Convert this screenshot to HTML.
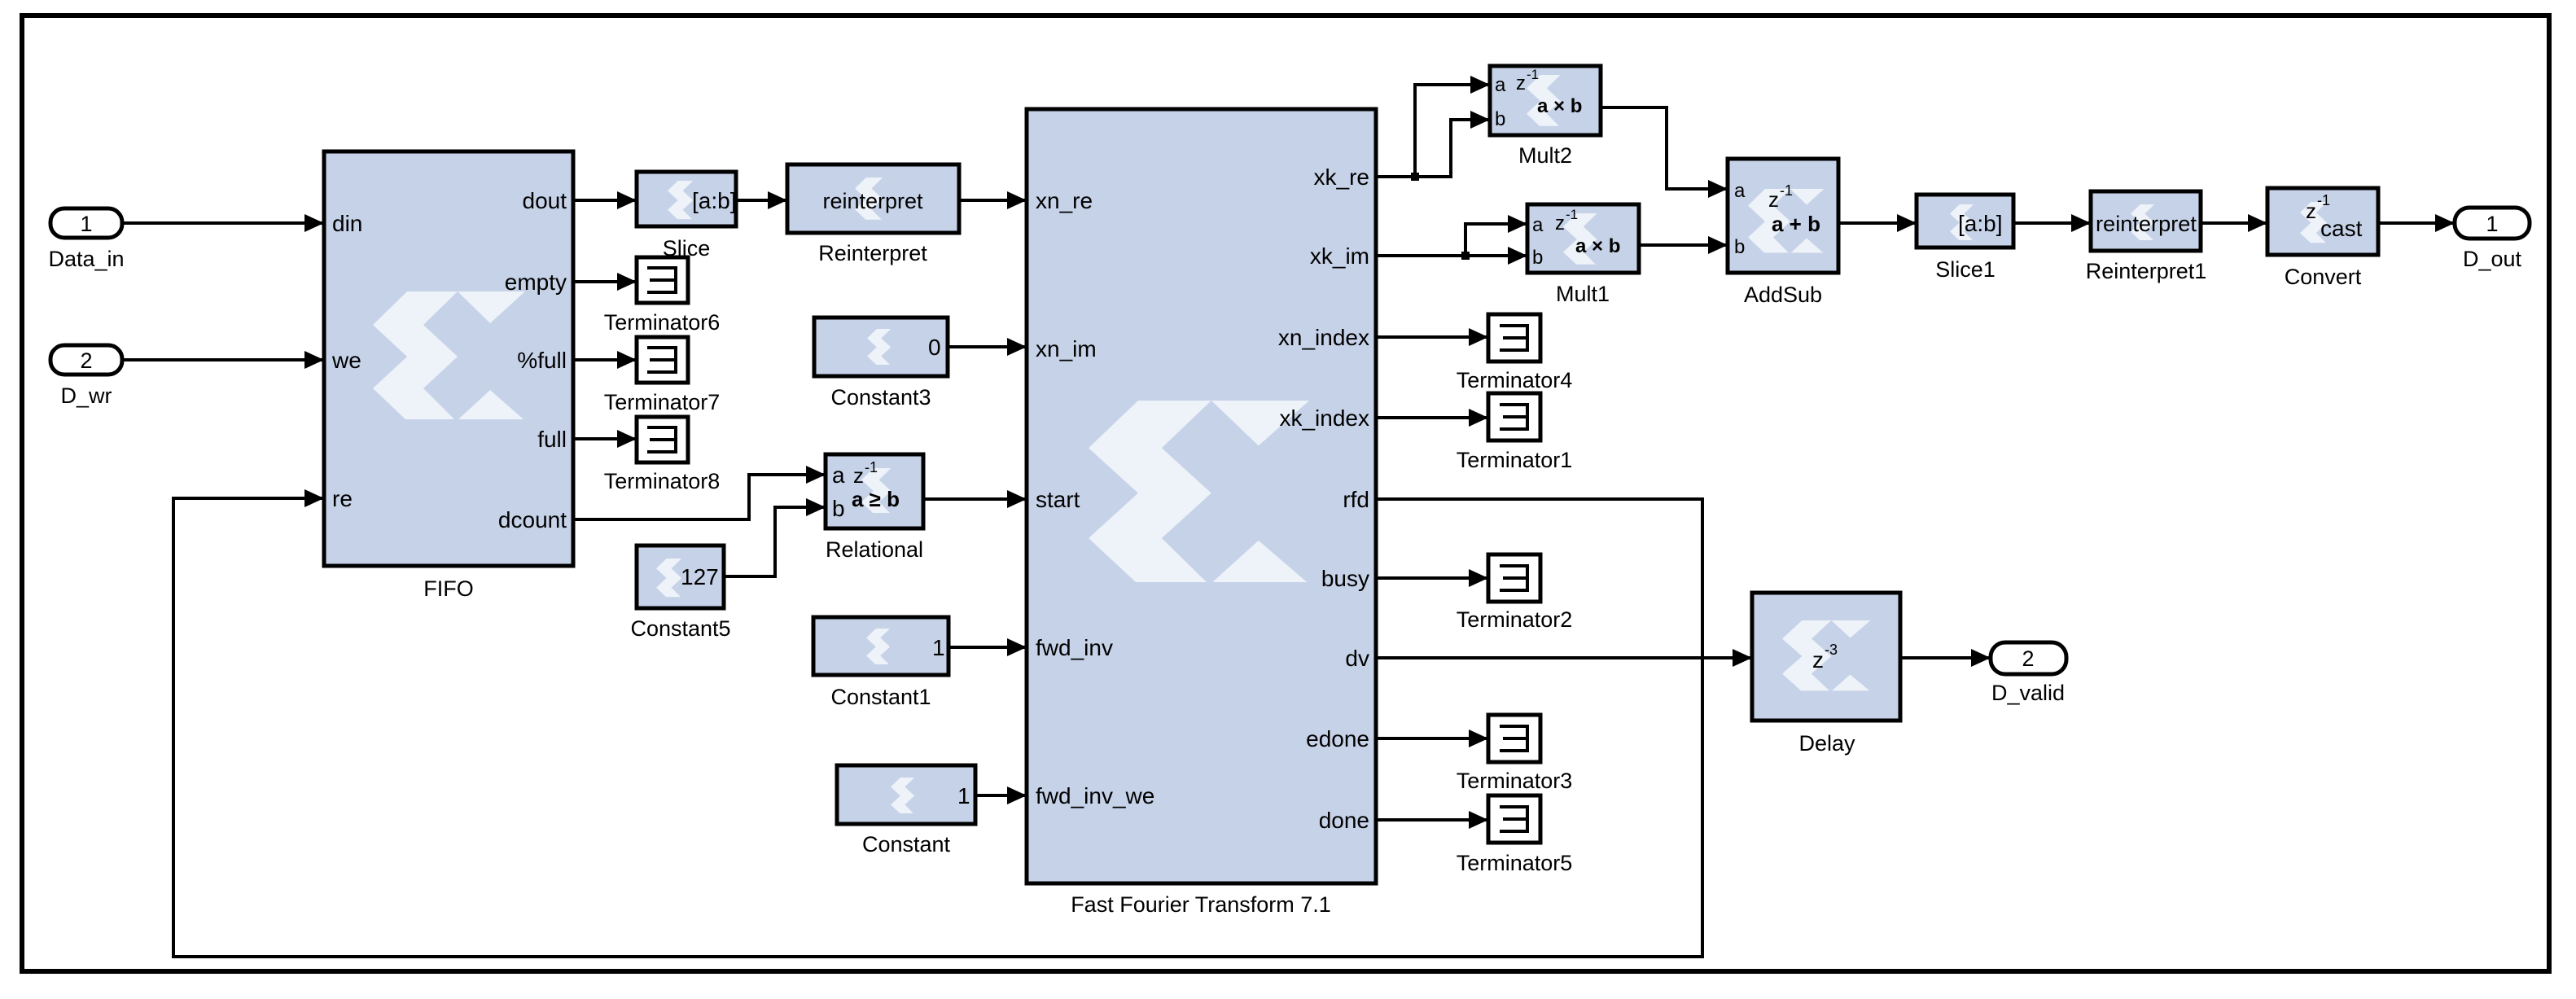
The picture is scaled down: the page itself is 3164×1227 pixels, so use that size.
<!DOCTYPE html>
<html><head><meta charset="utf-8"><style>
html,body{margin:0;padding:0;background:#fff}
svg{display:block}
text{font-family:"Liberation Sans",Arial,sans-serif;fill:#000}
.b{fill:#c6d2e8;stroke:#000;stroke-width:5}
.t{fill:#fff;stroke:#000;stroke-width:5}
.w{fill:none;stroke:#000;stroke-width:4}
.lbl{font-size:27px;text-anchor:middle}
.pl{font-size:28px}
.lg{fill:#eef2f9}
</style></head><body>
<svg width="3164" height="1227" viewBox="0 0 3164 1227" xmlns="http://www.w3.org/2000/svg">
<defs>
<marker id="a" markerUnits="userSpaceOnUse" markerWidth="24" markerHeight="22" refX="24" refY="11" orient="auto"><path d="M0,0 L24,11 L0,22 z" fill="#000"/></marker>
<g id="logo"><path d="M42,0 L104,0 L62,41 L104,80 L62,119 L100,157 L40,157 L0,119 L42,80 L0,41 z M104,0 L187,0 L144,39 z M105,157 L185,157 L144,121 z" class="lg"/></g>
<g id="slogo"><path d="M42,0 L104,0 L62,41 L104,80 L62,119 L100,157 L40,157 L0,119 L42,80 L0,41 z" class="lg"/></g>
</defs>
<rect x="27" y="19" width="3104" height="1174" fill="none" stroke="#000" stroke-width="6"/>

<!-- inports -->
<rect x="62" y="256" width="88" height="36" rx="17" fill="#fff" stroke="#000" stroke-width="5"/>
<text x="106" y="284" class="lbl">1</text><text x="106" y="327" class="lbl">Data_in</text>
<rect x="62" y="424" width="88" height="36" rx="17" fill="#fff" stroke="#000" stroke-width="5"/>
<text x="106" y="452" class="lbl">2</text><text x="106" y="495" class="lbl">D_wr</text>

<!-- FIFO -->
<rect x="398" y="186" width="306" height="509" class="b"/>
<use href="#logo" transform="translate(458,358)"/>
<text x="408" y="284" class="pl">din</text><text x="408" y="452" class="pl">we</text><text x="408" y="622" class="pl">re</text>
<g text-anchor="end"><text x="696" y="256" class="pl">dout</text><text x="696" y="356" class="pl">empty</text><text x="696" y="452" class="pl">%full</text><text x="696" y="549" class="pl">full</text><text x="696" y="648" class="pl">dcount</text></g>
<text x="551" y="732" class="lbl">FIFO</text>
<polyline points="150,274 398,274" class="w" marker-end="url(#a)"/>
<polyline points="150,442 398,442" class="w" marker-end="url(#a)"/>

<!-- Slice & reinterpret -->
<rect x="782" y="211" width="122" height="67" class="b"/><use href="#slogo" transform="translate(820,222) scale(0.3)"/><text x="850" y="256" class="pl">[a:b]</text><text x="843" y="314" class="lbl">Slice</text>
<rect x="967" y="202" width="211" height="84" class="b"/><use href="#slogo" transform="translate(1050,218) scale(0.33)"/><text x="1072" y="256" class="lbl">reinterpret</text><text x="1072" y="320" class="lbl">Reinterpret</text>
<polyline points="704,246 782,246" class="w" marker-end="url(#a)"/>
<polyline points="904,246 967,246" class="w" marker-end="url(#a)"/>
<polyline points="1178,246 1261,246" class="w" marker-end="url(#a)"/>

<!-- terminators -->
<rect x="782" y="316" width="63" height="56" class="t"/><path d="M795,329 H830 V359 H795 M798,344 H830" class="w" stroke-width="3"/>
<rect x="782" y="414" width="63" height="56" class="t"/><path d="M795,427 H830 V457 H795 M798,442 H830" class="w" stroke-width="3"/>
<rect x="782" y="512" width="63" height="56" class="t"/><path d="M795,525 H830 V555 H795 M798,540 H830" class="w" stroke-width="3"/>
<text x="813" y="405" class="lbl">Terminator6</text><text x="813" y="503" class="lbl">Terminator7</text><text x="813" y="600" class="lbl">Terminator8</text>
<polyline points="704,346 782,346" class="w" marker-end="url(#a)"/>
<polyline points="704,442 782,442" class="w" marker-end="url(#a)"/>
<polyline points="704,539 782,539" class="w" marker-end="url(#a)"/>

<!-- Constant3 -->
<rect x="1000" y="390" width="164" height="72" class="b"/><use href="#slogo" transform="translate(1065,404) scale(0.28)"/>
<text x="1140" y="436" class="pl">0</text><text x="1082" y="497" class="lbl">Constant3</text>
<polyline points="1164,426 1261,426" class="w" marker-end="url(#a)"/>

<!-- Relational -->
<rect x="1014" y="558" width="120" height="91" class="b"/>
<use href="#slogo" transform="translate(1058,575) scale(0.35)"/>
<text x="1022" y="593" class="pl">a</text><text x="1022" y="634" class="pl">b</text>
<text x="1048" y="593" font-size="26">z</text><text x="1062" y="580" font-size="18">-1</text>
<text x="1046" y="622" font-size="26" font-weight="bold">a ≥ b</text>
<text x="1074" y="684" class="lbl">Relational</text>
<polyline points="704,638 920,638 920,583 1014,583" class="w" marker-end="url(#a)"/>
<polyline points="889,708 952,708 952,623 1014,623" class="w" marker-end="url(#a)"/>
<polyline points="1134,613 1261,613" class="w" marker-end="url(#a)"/>

<!-- Constant5 -->
<rect x="782" y="670" width="107" height="77" class="b"/><use href="#slogo" transform="translate(806,686) scale(0.3)"/>
<text x="836" y="718" class="pl">127</text><text x="836" y="781" class="lbl">Constant5</text>

<!-- Constant1, Constant -->
<rect x="999" y="758" width="166" height="71" class="b"/><use href="#slogo" transform="translate(1064,772) scale(0.28)"/>
<text x="1145" y="805" class="pl">1</text><text x="1082" y="865" class="lbl">Constant1</text>
<polyline points="1165,795 1261,795" class="w" marker-end="url(#a)"/>
<rect x="1028" y="940" width="170" height="72" class="b"/><use href="#slogo" transform="translate(1094,955) scale(0.28)"/>
<text x="1176" y="987" class="pl">1</text><text x="1113" y="1046" class="lbl">Constant</text>
<polyline points="1198,977 1261,977" class="w" marker-end="url(#a)"/>

<!-- FFT -->
<rect x="1261" y="134" width="429" height="951" class="b"/>
<use href="#logo" transform="translate(1337,492) scale(1.45,1.42)"/>
<g class="pl"><text x="1272" y="256">xn_re</text><text x="1272" y="438">xn_im</text><text x="1272" y="623">start</text><text x="1272" y="805">fwd_inv</text><text x="1272" y="987">fwd_inv_we</text></g>
<g text-anchor="end" class="pl"><text x="1682" y="227">xk_re</text><text x="1682" y="324">xk_im</text><text x="1682" y="424">xn_index</text><text x="1682" y="523">xk_index</text><text x="1682" y="623">rfd</text><text x="1682" y="720">busy</text><text x="1682" y="818">dv</text><text x="1682" y="917">edone</text><text x="1682" y="1017">done</text></g>
<text x="1475" y="1120" class="lbl">Fast Fourier Transform 7.1</text>

<!-- right terminators -->
<rect x="1828" y="386" width="64" height="58" class="t"/><path d="M1842,400 H1876 V430 H1842 M1846,415 H1876" class="w" stroke-width="3"/>
<rect x="1828" y="483" width="64" height="58" class="t"/><path d="M1842,497 H1876 V527 H1842 M1846,512 H1876" class="w" stroke-width="3"/>
<rect x="1828" y="681" width="64" height="58" class="t"/><path d="M1842,695 H1876 V725 H1842 M1846,710 H1876" class="w" stroke-width="3"/>
<rect x="1828" y="878" width="64" height="58" class="t"/><path d="M1842,892 H1876 V922 H1842 M1846,907 H1876" class="w" stroke-width="3"/>
<rect x="1828" y="977" width="64" height="58" class="t"/><path d="M1842,991 H1876 V1021 H1842 M1846,1006 H1876" class="w" stroke-width="3"/>
<text x="1860" y="476" class="lbl">Terminator4</text><text x="1860" y="574" class="lbl">Terminator1</text><text x="1860" y="770" class="lbl">Terminator2</text><text x="1860" y="968" class="lbl">Terminator3</text><text x="1860" y="1069" class="lbl">Terminator5</text>
<polyline points="1690,414 1828,414" class="w" marker-end="url(#a)"/>
<polyline points="1690,513 1828,513" class="w" marker-end="url(#a)"/>
<polyline points="1690,710 1828,710" class="w" marker-end="url(#a)"/>
<polyline points="1690,907 1828,907" class="w" marker-end="url(#a)"/>
<polyline points="1690,1007 1828,1007" class="w" marker-end="url(#a)"/>

<!-- Mult2 -->
<rect x="1830" y="81" width="136" height="85" class="b"/>
<use href="#slogo" transform="translate(1875,92) scale(0.4)"/>
<text x="1836" y="112" font-size="24">a</text><text x="1836" y="154" font-size="24">b</text>
<text x="1862" y="110" font-size="24">z</text><text x="1875" y="97" font-size="17">-1</text>
<text x="1888" y="138" font-size="24" font-weight="bold">a × b</text>
<text x="1898" y="200" class="lbl">Mult2</text>
<polyline points="1690,217 1738,217 1738,104 1830,104" class="w" marker-end="url(#a)"/>
<polyline points="1738,217 1782,217 1782,147 1830,147" class="w" marker-end="url(#a)"/>
<rect x="1733" y="212" width="10" height="10"/>

<!-- Mult1 -->
<rect x="1876" y="251" width="137" height="84" class="b"/>
<use href="#slogo" transform="translate(1920,262) scale(0.4)"/>
<text x="1882" y="284" font-size="24">a</text><text x="1882" y="324" font-size="24">b</text>
<text x="1910" y="282" font-size="24">z</text><text x="1923" y="269" font-size="17">-1</text>
<text x="1935" y="310" font-size="24" font-weight="bold">a × b</text>
<text x="1944" y="370" class="lbl">Mult1</text>
<polyline points="1690,314 1876,314" class="w" marker-end="url(#a)"/>
<polyline points="1800,314 1800,275 1876,275" class="w" marker-end="url(#a)"/>
<rect x="1795" y="309" width="10" height="10"/>

<!-- AddSub -->
<rect x="2122" y="195" width="136" height="140" class="b"/>
<use href="#logo" transform="translate(2147,232) scale(0.5)"/>
<text x="2130" y="242" font-size="24">a</text><text x="2130" y="311" font-size="24">b</text>
<text x="2172" y="254" font-size="26">z</text><text x="2186" y="240" font-size="18">-1</text>
<text x="2176" y="284" font-size="26" font-weight="bold">a + b</text>
<text x="2190" y="371" class="lbl">AddSub</text>
<polyline points="1966,132 2047,132 2047,232 2122,232" class="w" marker-end="url(#a)"/>
<polyline points="2013,301 2122,301" class="w" marker-end="url(#a)"/>

<!-- Slice1 etc -->
<rect x="2354" y="239" width="119" height="65" class="b"/><use href="#slogo" transform="translate(2395,251) scale(0.28)"/>
<text x="2405" y="284" class="pl">[a:b]</text><text x="2414" y="340" class="lbl">Slice1</text>
<rect x="2568" y="235" width="135" height="73" class="b"/><use href="#slogo" transform="translate(2617,251) scale(0.28)"/>
<text x="2636" y="284" class="lbl" textLength="124" lengthAdjust="spacingAndGlyphs">reinterpret</text><text x="2636" y="342" class="lbl">Reinterpret1</text>
<rect x="2785" y="231" width="136" height="82" class="b"/><use href="#slogo" transform="translate(2825,248) scale(0.32)"/>
<text x="2832" y="268" font-size="26">z</text><text x="2846" y="252" font-size="18">-1</text>
<text x="2850" y="290" class="pl">cast</text><text x="2853" y="349" class="lbl">Convert</text>
<polyline points="2258,274 2354,274" class="w" marker-end="url(#a)"/>
<polyline points="2473,274 2568,274" class="w" marker-end="url(#a)"/>
<polyline points="2703,274 2785,274" class="w" marker-end="url(#a)"/>
<polyline points="2921,274 3015,274" class="w" marker-end="url(#a)"/>
<rect x="3015" y="255" width="92" height="38" rx="18" fill="#fff" stroke="#000" stroke-width="5"/>
<text x="3061" y="284" class="lbl">1</text><text x="3061" y="327" class="lbl">D_out</text>

<!-- Delay -->
<rect x="2152" y="728" width="182" height="157" class="b"/>
<use href="#logo" transform="translate(2189,762) scale(0.58,0.55)"/>
<text x="2226" y="820" font-size="28">z</text><text x="2241" y="804" font-size="18">-3</text>
<text x="2244" y="922" class="lbl">Delay</text>
<polyline points="1690,808 2152,808" class="w" marker-end="url(#a)"/>
<polyline points="2334,808 2445,808" class="w" marker-end="url(#a)"/>
<rect x="2445" y="789" width="93" height="39" rx="18" fill="#fff" stroke="#000" stroke-width="5"/>
<text x="2491" y="818" class="lbl">2</text><text x="2491" y="860" class="lbl">D_valid</text>

<!-- rfd feedback -->
<polyline points="1690,613 2091,613 2091,1175 213,1175 213,612 398,612" class="w" marker-end="url(#a)"/>
</svg>
</body></html>
